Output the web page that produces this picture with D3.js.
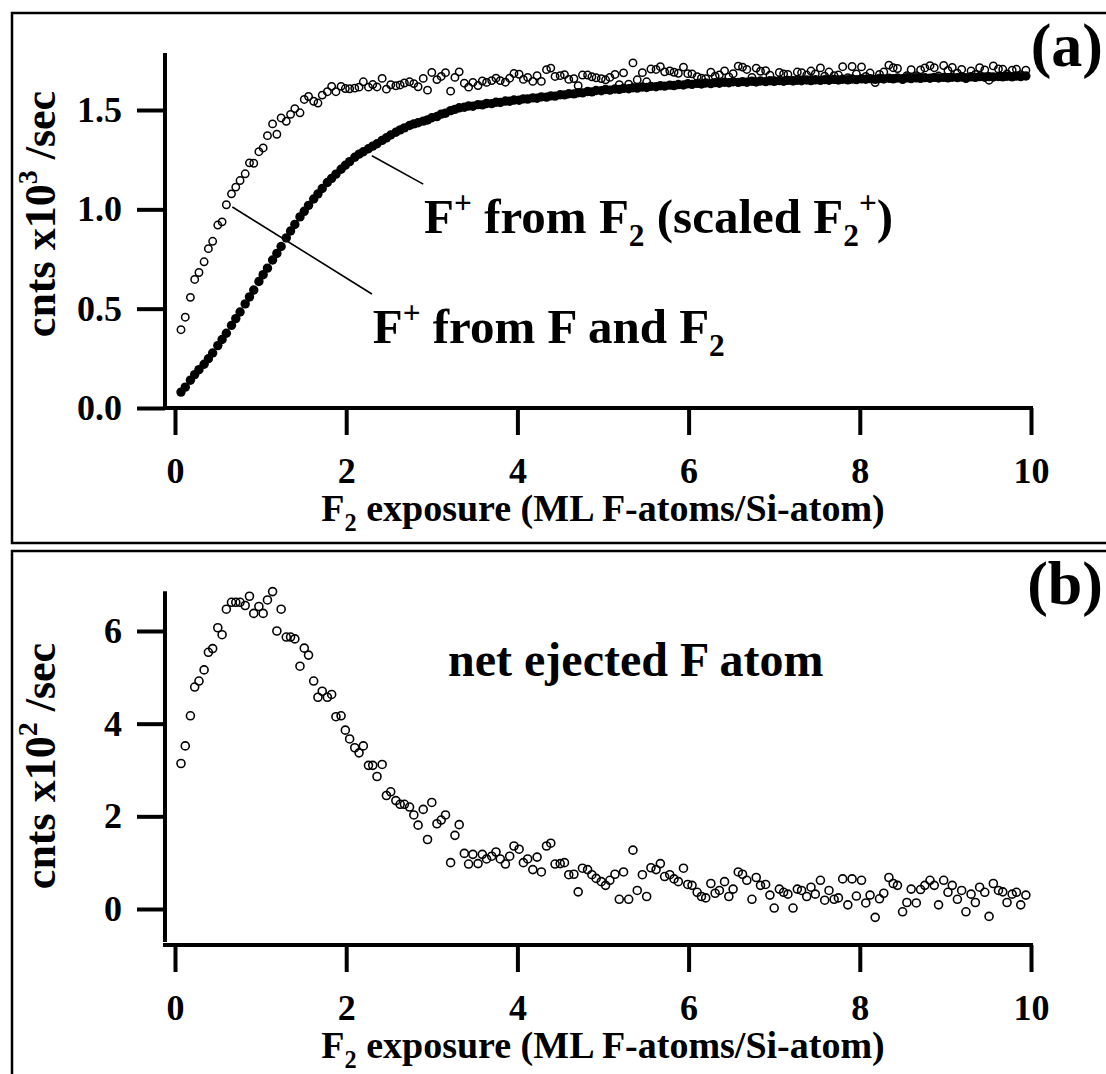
<!DOCTYPE html>
<html>
<head>
<meta charset="utf-8">
<script src="https://cdn.jsdelivr.net/npm/d3@7"></script>
<style>
  body { margin: 0; background: #ffffff; }
  #fig_container svg { display: block; background: #ffffff; }
</style>
</head>
<body>
<div id="fig_container"></div>
<script>
// F2 exposure grid (ML F-atoms/Si-atom), shared by all three series
let exposure = [
  0.07,0.12,0.18, 0.23,0.28,0.34, 0.39,0.44,0.50, 0.55,0.60,0.66, 0.71,0.76,0.82, 0.87,0.92,0.98,
  1.03,1.08,1.14, 1.19,1.24,1.30, 1.35,1.40,1.46, 1.51,1.56,1.62, 1.67,1.72,1.78, 1.83,1.88,1.94,
  1.99,2.04,2.10, 2.15,2.20,2.26, 2.31,2.36,2.42, 2.47,2.52,2.58, 2.63,2.68,2.74, 2.79,2.84,2.90,
  2.95,3.00,3.06, 3.11,3.16,3.22, 3.27,3.32,3.38, 3.43,3.48,3.54, 3.59,3.64,3.70, 3.75,3.80,3.86,
  3.91,3.96,4.02, 4.07,4.12,4.18, 4.23,4.28,4.34, 4.39,4.44,4.50, 4.55,4.60,4.66, 4.71,4.76,4.82,
  4.87,4.92,4.98, 5.03,5.08,5.14, 5.19,5.24,5.30, 5.35,5.40,5.46, 5.51,5.56,5.62, 5.67,5.72,5.78,
  5.83,5.88,5.94, 5.99,6.04,6.10, 6.15,6.20,6.26, 6.31,6.36,6.42, 6.47,6.52,6.58, 6.63,6.68,6.74,
  6.79,6.84,6.90, 6.95,7.00,7.06, 7.11,7.16,7.22, 7.27,7.32,7.38, 7.43,7.48,7.54, 7.59,7.64,7.70,
  7.75,7.80,7.86, 7.91,7.96,8.02, 8.07,8.12,8.18, 8.23,8.28,8.34, 8.39,8.44,8.50, 8.55,8.60,8.66,
  8.71,8.76,8.82, 8.87,8.92,8.98, 9.03,9.08,9.14, 9.19,9.24,9.30, 9.35,9.40,9.46, 9.51,9.56,9.62,
  9.67,9.72,9.78, 9.83,9.88,9.94
];

// (a) open circles: F+ from F and F2  (cnts x10^3 /sec)
let f_plus_total = [
  0.394,0.457,0.557, 0.647,0.682,0.736, 0.802,0.839,0.921, 0.937,1.023,1.078, 1.112,1.145,1.179, 1.234,1.232,1.290,
  1.309,1.371,1.430, 1.378,1.460,1.443, 1.478,1.507,1.486, 1.553,1.568,1.544, 1.535,1.575,1.592, 1.619,1.592,1.619,
  1.608,1.607,1.610, 1.615,1.642,1.615, 1.628,1.616,1.659, 1.605,1.627,1.622, 1.626,1.636,1.642, 1.633,1.617,1.659,
  1.600,1.689,1.653, 1.669,1.688,1.595, 1.664,1.692,1.635, 1.615,1.639,1.623, 1.646,1.639,1.648, 1.660,1.648,1.640,
  1.660,1.684,1.680, 1.654,1.664,1.644, 1.673,1.644,1.703, 1.711,1.669,1.673, 1.678,1.654,1.658, 1.622,1.676,1.676,
  1.667,1.662,1.658, 1.652,1.664,1.679, 1.627,1.687,1.630, 1.737,1.652,1.688, 1.642,1.706,1.704, 1.718,1.692,1.697,
  1.690,1.685,1.716, 1.683,1.682,1.668, 1.660,1.658,1.690, 1.670,1.677,1.697, 1.666,1.683,1.721, 1.716,1.704,1.664,
  1.711,1.695,1.698, 1.675,1.647,1.689, 1.682,1.679,1.649, 1.691,1.688,1.676, 1.696,1.682,1.712, 1.670,1.691,1.673,
  1.676,1.718,1.662, 1.719,1.682,1.717, 1.669,1.686,1.638, 1.679,1.691,1.726, 1.713,1.709,1.653, 1.673,1.703,1.673,
  1.702,1.712,1.723, 1.713,1.671,1.724, 1.699,1.714,1.685, 1.704,1.658,1.697, 1.679,1.713,1.702, 1.650,1.722,1.707,
  1.705,1.682,1.700, 1.705,1.678,1.700
];

// (a) filled circles: F+ from F2 (scaled F2+)
let f_plus_from_f2 = [
  0.080,0.105,0.140, 0.168,0.193,0.220, 0.248,0.277,0.314, 0.345,0.376,0.416, 0.450,0.483,0.524, 0.559,0.594,0.637,
  0.671,0.704,0.745, 0.778,0.813,0.856, 0.891,0.924,0.962, 0.990,1.020,1.052, 1.078,1.105,1.135, 1.156,1.177,1.202,
  1.222,1.240,1.262, 1.278,1.290,1.305, 1.318,1.330,1.347, 1.360,1.374,1.388, 1.400,1.410,1.422, 1.430,1.436,1.444,
  1.450,1.461,1.467, 1.479,1.484,1.497, 1.503,1.511,1.514, 1.520,1.519,1.527, 1.526,1.533,1.532, 1.539,1.538,1.545,
  1.544,1.550,1.549, 1.556,1.555,1.561, 1.559,1.566,1.565, 1.571,1.570,1.577, 1.576,1.582,1.581, 1.587,1.586,1.593,
  1.591,1.598,1.597, 1.603,1.600,1.606, 1.604,1.609,1.607, 1.612,1.610,1.616, 1.613,1.619,1.617, 1.622,1.620,1.625,
  1.623,1.628,1.626, 1.632,1.629,1.634, 1.631,1.636,1.633, 1.638,1.635,1.640, 1.637,1.642,1.639, 1.643,1.640,1.645,
  1.641,1.646,1.643, 1.647,1.644,1.648, 1.645,1.649,1.646, 1.650,1.647,1.651, 1.648,1.652,1.649, 1.653,1.650,1.654,
  1.651,1.655,1.652, 1.656,1.653,1.657, 1.655,1.658,1.654, 1.659,1.656,1.660, 1.657,1.661,1.658, 1.662,1.658,1.662,
  1.659,1.663,1.660, 1.664,1.661,1.664, 1.662,1.665,1.663, 1.666,1.662,1.667, 1.664,1.668,1.665, 1.668,1.666,1.669,
  1.667,1.670,1.667, 1.671,1.668,1.671
];

// (b) net ejected F atom  (cnts x10^2 /sec)
let net_ejected_f = [
  3.14,3.52,4.17, 4.79,4.92,5.16, 5.54,5.62,6.07, 5.92,6.47,6.62, 6.62,6.62,6.55, 6.75,6.38,6.53,
  6.38,6.67,6.85, 6.00,6.47,5.87, 5.87,5.83,5.24, 5.63,5.48,4.92, 4.57,4.70,4.57, 4.63,4.15,4.17,
  3.86,3.67,3.48, 3.37,3.52,3.10, 3.10,2.86,3.12, 2.45,2.53,2.34, 2.26,2.26,2.20, 2.03,1.81,2.15,
  1.50,2.30,1.84, 1.92,2.03,1.00, 1.59,1.82,1.20, 0.97,1.18,0.98, 1.18,1.08,1.14, 1.23,1.08,0.97,
  1.14,1.36,1.29, 1.00,1.08,0.85, 1.12,0.80,1.36, 1.42,0.97,0.98, 1.00,0.74,0.75, 0.37,0.88,0.85,
  0.74,0.66,0.59, 0.51,0.62,0.75, 0.21,0.80,0.21, 1.27,0.40,0.74, 0.27,0.89,0.85, 0.98,0.70,0.74,
  0.65,0.59,0.88, 0.53,0.51,0.36, 0.27,0.24,0.55, 0.34,0.40,0.59, 0.27,0.43,0.80, 0.75,0.62,0.21,
  0.68,0.51,0.53, 0.30,0.02,0.43, 0.36,0.32,0.02, 0.43,0.40,0.27, 0.47,0.32,0.62, 0.19,0.40,0.21,
  0.24,0.65,0.09, 0.65,0.28,0.62, 0.13,0.30,-0.18, 0.22,0.34,0.68, 0.55,0.51,-0.06, 0.14,0.43,0.13,
  0.42,0.51,0.62, 0.51,0.09,0.62, 0.36,0.51,0.21, 0.40,-0.06,0.32, 0.14,0.47,0.36, -0.16,0.55,0.40,
  0.37,0.14,0.32, 0.36,0.09,0.30
];

let x_ticks = [0, 2, 4, 6, 8, 10];
let y_ticks_a = [0, 0.5, 1.0, 1.5];
let y_ticks_b = [0, 2, 4, 6];

let font_family = '"Liberation Serif", "Times New Roman", Times, serif';

let svg = d3.select("#fig_container")
  .append("svg")
    .attr("width", 1106)
    .attr("height", 1074)
    .attr("xmlns", "http://www.w3.org/2000/svg")
    .style("font-family", font_family)
    .style("font-weight", "bold");

let x_scale = d3.scaleLinear().domain([0, 10]).range([175, 1031]);

// write text made of plain / superscript / subscript parts
let rich_text = function hst_rich_text(sel, parts, size)
{
  let shift = 0;
  parts.forEach(function (p) {
    let target = 0;
    if (p[1] === "sup") target = -0.40 * size;
    if (p[1] === "sub") target = 0.26 * size;
    let ts = sel.append("tspan").text(p[0]).attr("dy", target - shift);
    if (p[1]) ts.attr("font-size", size * 0.64);
    shift = target;
  });
  return (sel);
}

let draw_panel = function hst_draw_panel(cfg)
{
  let g = svg.append("g");
  let y_scale = d3.scaleLinear().domain(cfg.y_domain).range(cfg.y_range);
  let axis_x = x_scale(-0.117);

  // frame around the panel
  g.append("rect")
    .attr("x", 12).attr("y", cfg.frame_top)
    .attr("width", 1110).attr("height", cfg.frame_bottom - cfg.frame_top)
    .attr("fill", "none").attr("stroke", "#000").attr("stroke-width", 2.5);

  // x axis
  let gx = g.append("g")
    .attr("transform", "translate(0," + cfg.x_axis_px + ")")
    .call(d3.axisBottom(x_scale)
            .tickValues(x_ticks)
            .tickFormat(d3.format("d"))
            .tickSize(27)
            .tickPadding(22));
  gx.select(".domain").remove();
  gx.attr("font-family", null).attr("font-size", 36);
  gx.selectAll(".tick line").attr("stroke-width", 4);
  gx.append("line")
    .attr("x1", axis_x - 2).attr("x2", x_scale(10) + 2)
    .attr("y1", 0).attr("y2", 0)
    .attr("stroke", "#000").attr("stroke-width", 4);

  // y axis
  let gy = g.append("g")
    .attr("transform", "translate(" + axis_x + ",0)")
    .call(d3.axisLeft(y_scale)
            .tickValues(cfg.y_ticks)
            .tickFormat(cfg.y_format)
            .tickSize(28)
            .tickPadding(15));
  gy.select(".domain").remove();
  gy.attr("font-family", null).attr("font-size", 36);
  gy.selectAll(".tick line").attr("stroke-width", 4);
  gy.append("line")
    .attr("x1", 0).attr("x2", 0)
    .attr("y1", y_scale(cfg.y_axis_span[1])).attr("y2", y_scale(cfg.y_axis_span[0]))
    .attr("stroke", "#000").attr("stroke-width", 4);

  // axis titles
  rich_text(
    g.append("text")
      .attr("x", 603).attr("y", cfg.x_title_y)
      .attr("text-anchor", "middle").attr("font-size", 38),
    [["F"], ["2", "sub"], [" exposure (ML F-atoms/Si-atom)"]], 38);

  rich_text(
    g.append("text")
      .attr("transform", "translate(55," + cfg.y_title_y + ") rotate(-90)")
      .attr("text-anchor", "middle").attr("font-size", 44),
    [["cnts x10"], [cfg.y_power, "sup"], [" /sec"]], 44);

  // panel letter, kept just inside the right edge
  g.append("text")
    .attr("x", 1103).attr("y", cfg.letter_y)
    .attr("text-anchor", "end")
    .attr("font-size", 62)
    .text(cfg.letter);

  return ({ g: g, y_scale: y_scale });
}

// ---------- panel (a)
let pa = draw_panel({
  frame_top: 13, frame_bottom: 543,
  y_domain: [0, 1.5], y_range: [408, 110],
  y_axis_span: [-0.01, 1.787],
  x_axis_px: 408,
  y_ticks: y_ticks_a, y_format: d3.format(".1f"),
  x_title_y: 521, y_title_y: 214, y_power: "3",
  letter: "(a)", letter_y: 66
});

pa.g.append("g")
  .selectAll("circle")
  .data(exposure)
  .join("circle")
    .attr("cx", function (d) { return x_scale(d); })
    .attr("cy", function (d, i) { return pa.y_scale(f_plus_from_f2[i]); })
    .attr("r", 4.7)
    .attr("fill", "#000");

pa.g.append("g")
  .selectAll("circle")
  .data(exposure)
  .join("circle")
    .attr("cx", function (d) { return x_scale(d); })
    .attr("cy", function (d, i) { return pa.y_scale(f_plus_total[i]); })
    .attr("r", 3.7)
    .attr("fill", "none")
    .attr("stroke", "#000")
    .attr("stroke-width", 1.5);

// leader lines and labels, anchored in data units
let leader_lines = [
  { from: [2.30, 1.27], to: [2.90, 1.127] },
  { from: [0.67, 1.012], to: [2.30, 0.574] }
];

pa.g.append("g")
  .selectAll("line")
  .data(leader_lines)
  .join("line")
    .attr("x1", function (d) { return x_scale(d.from[0]); })
    .attr("y1", function (d) { return pa.y_scale(d.from[1]); })
    .attr("x2", function (d) { return x_scale(d.to[0]); })
    .attr("y2", function (d) { return pa.y_scale(d.to[1]); })
    .attr("stroke", "#000")
    .attr("stroke-width", 1.6);

rich_text(
  pa.g.append("text")
    .attr("x", x_scale(2.91)).attr("y", pa.y_scale(0.881))
    .attr("font-size", 49),
  [["F"], ["+", "sup"], [" from F"], ["2", "sub"], [" (scaled F"], ["2", "sub"], ["+", "sup"], [")"]], 49);

rich_text(
  pa.g.append("text")
    .attr("x", x_scale(2.31)).attr("y", pa.y_scale(0.327))
    .attr("font-size", 49),
  [["F"], ["+", "sup"], [" from F and F"], ["2", "sub"]], 49);

// ---------- panel (b)
let pb = draw_panel({
  frame_top: 551, frame_bottom: 1090,
  y_domain: [0, 6], y_range: [909, 631],
  y_axis_span: [-0.71, 6.86],
  x_axis_px: 945,
  y_ticks: y_ticks_b, y_format: d3.format("d"),
  x_title_y: 1058, y_title_y: 766, y_power: "2",
  letter: "(b)", letter_y: 604
});

pb.g.append("g")
  .selectAll("circle")
  .data(exposure)
  .join("circle")
    .attr("cx", function (d) { return x_scale(d); })
    .attr("cy", function (d, i) { return pb.y_scale(net_ejected_f[i]); })
    .attr("r", 4.0)
    .attr("fill", "none")
    .attr("stroke", "#000")
    .attr("stroke-width", 1.6);

pb.g.append("text")
  .attr("x", x_scale(3.19)).attr("y", pb.y_scale(5.03))
  .attr("font-size", 48)
  .text("net ejected F atom");
</script>
</body>
</html>
